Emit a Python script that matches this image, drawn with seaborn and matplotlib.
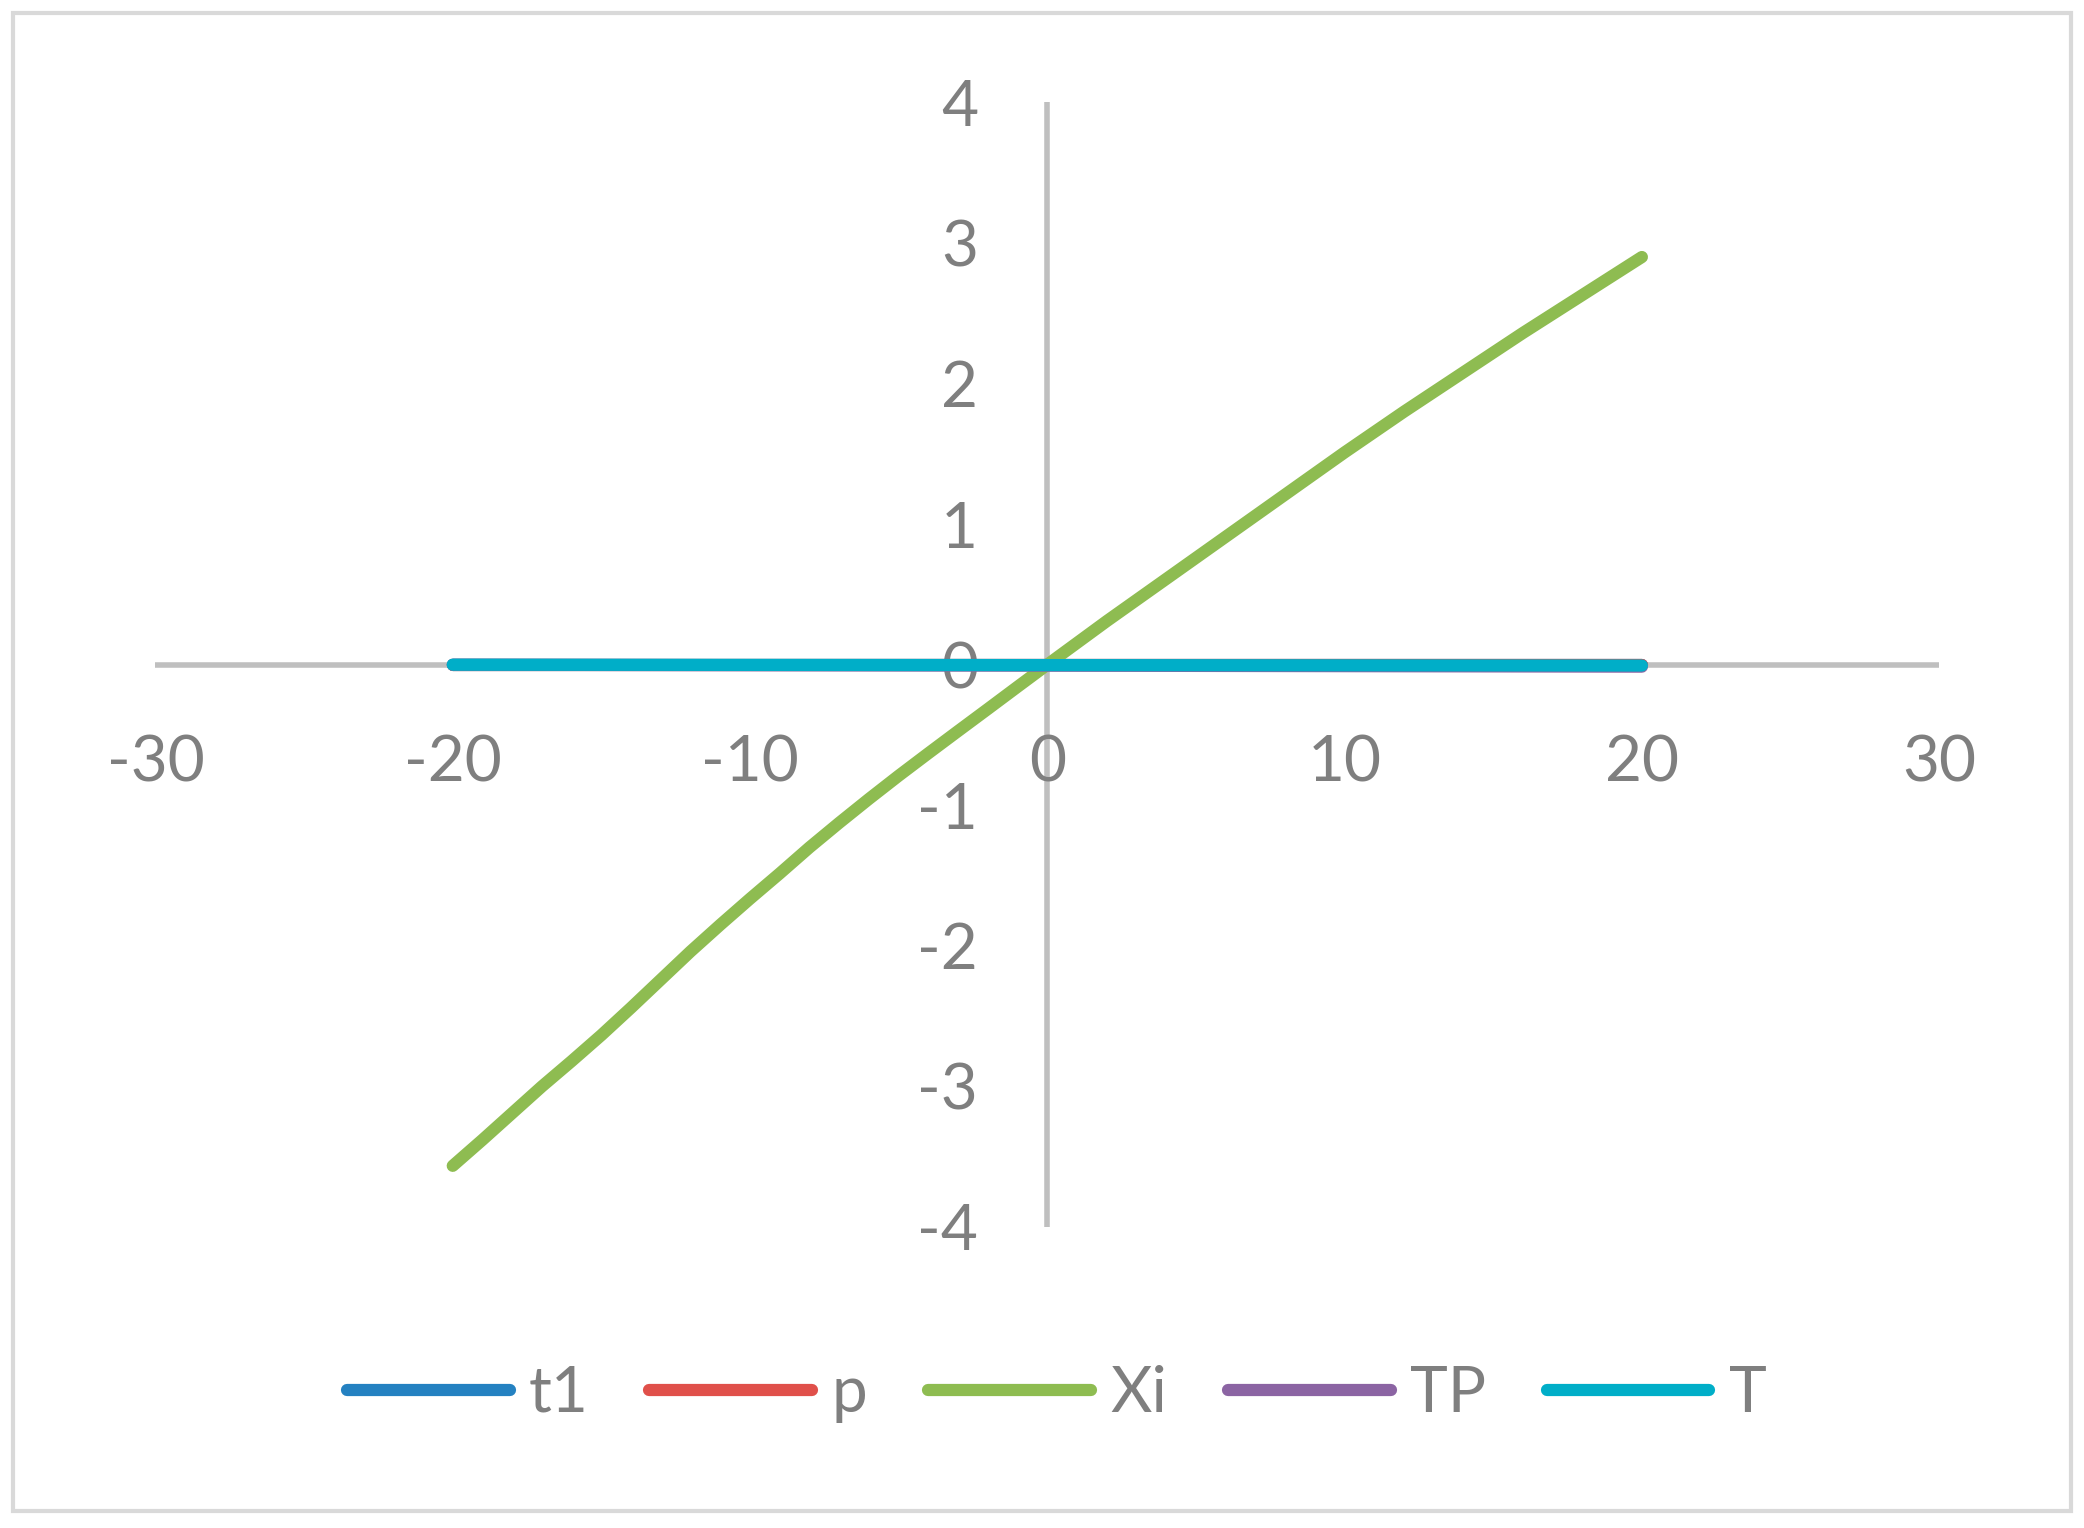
import numpy as np
import pandas as pd
import matplotlib
matplotlib.use("Agg")
import matplotlib.pyplot as plt
import seaborn as sns
from matplotlib.patches import Rectangle
from matplotlib.lines import Line2D

# ---- data ----
series_names = ["t1", "p", "Xi", "TP", "T"]
series_colors = ["#2481C1", "#E0504A", "#8EBC51", "#8B64A3", "#00AEC8"]

xi_x = [-20, -19, -18, -17, -16, -15, -14, -13, -12, -11, -10, -9, -8, -7, -6, -5,
        -4, -3, -2, -1, 0, 1, 2, 3, 4, 5, 6, 7, 8, 9, 10, 11, 12, 13, 14, 15, 16,
        17, 18, 19, 20]
xi_y = [-3.565, -3.38, -3.19, -3.00, -2.82, -2.635, -2.44, -2.24, -2.04, -1.85,
        -1.665, -1.485, -1.30, -1.125, -0.955, -0.79, -0.63, -0.472, -0.315, -0.157,
        0.0, 0.155, 0.31, 0.46, 0.61, 0.76, 0.91, 1.06, 1.21, 1.36, 1.51, 1.655,
        1.80, 1.94, 2.08, 2.22, 2.36, 2.495, 2.63, 2.765, 2.90]

t1_x = [-20, 20]
t1_y = [0.0, 0.0]
p_x = [-20, 20]
p_y = [0.0, 0.0]
tp_x = [-20, 20]
tp_y = [0.0, -0.014]
t_x = [-20, 20]
t_y = [0.0, -0.006]

x_ticks = [-30, -20, -10, 0, 10, 20, 30]
x_tick_labels = ["-30", "-20", "-10", "0", "10", "20", "30"]
y_ticks = [-4, -3, -2, -1, 0, 1, 2, 3, 4]
y_tick_labels = ["-4", "-3", "-2", "-1", "0", "1", "2", "3", "4"]

frames = []
for name, xs, ys in [("t1", t1_x, t1_y), ("p", p_x, p_y), ("Xi", xi_x, xi_y),
                     ("TP", tp_x, tp_y), ("T", t_x, t_y)]:
    frames.append(pd.DataFrame({"x": xs, "y": ys, "series": name}))
df = pd.concat(frames, ignore_index=True)

# ---- style ----
sns.set_style("white")
plt.rcParams["font.family"] = ["Lato", "DejaVu Sans"]

DPI = 100
fig = plt.figure(figsize=(20.84, 15.28), dpi=DPI)
ax = fig.add_axes([0.0746, 0.197, 0.9305 - 0.0746, 0.933 - 0.197])

LW = 8.8
sns.lineplot(data=df, x="x", y="y", hue="series", hue_order=series_names,
             palette=dict(zip(series_names, series_colors)), estimator=None,
             sort=False, units="series", linewidth=LW, legend=False, ax=ax)
for ln in ax.lines:
    ln.set_solid_capstyle("round")
    ln.set_solid_joinstyle("round")

ax.set_xlim(-30, 30)
ax.set_ylim(-4, 4)
ax.set_xlabel("")
ax.set_ylabel("")

axis_gray = "#BFBFBF"
for s in ["top", "right"]:
    ax.spines[s].set_visible(False)
for s in ["left", "bottom"]:
    ax.spines[s].set_position(("data", 0))
    ax.spines[s].set_color(axis_gray)
    ax.spines[s].set_linewidth(4.0)
    ax.spines[s].set_zorder(0.5)
    ax.spines[s].set_capstyle("butt")

text_gray = "#7F7F7F"
ax.set_xticks(x_ticks)
ax.set_xticklabels(x_tick_labels)
ax.set_yticks(y_ticks)
ax.set_yticklabels(y_tick_labels)
ax.tick_params(axis="both", length=0, labelsize=46, labelcolor=text_gray)
ax.tick_params(axis="x", pad=50)
ax.tick_params(axis="y", pad=50)
for lab in ax.get_xticklabels() + ax.get_yticklabels():
    lab.set_zorder(10)
ax.set_facecolor("none")

handles = [Line2D([0], [0], color=c, lw=LW, solid_capstyle="round") for c in series_colors]
fig.legend(handles, series_names, loc="center", bbox_to_anchor=(0.507, 1 - 1394 / 1528),
           ncol=5, frameon=False, fontsize=46, labelcolor=text_gray,
           handlelength=2.55, handletextpad=0.3, columnspacing=0.95)

fig.add_artist(Rectangle((13 / 2084, 17 / 1528), (2071 - 13) / 2084, (1511 - 13) / 1528,
                         transform=fig.transFigure, fill=False, edgecolor="#D9D9D9",
                         linewidth=3.0))

fig.savefig("out.png", dpi=DPI, facecolor="white")
